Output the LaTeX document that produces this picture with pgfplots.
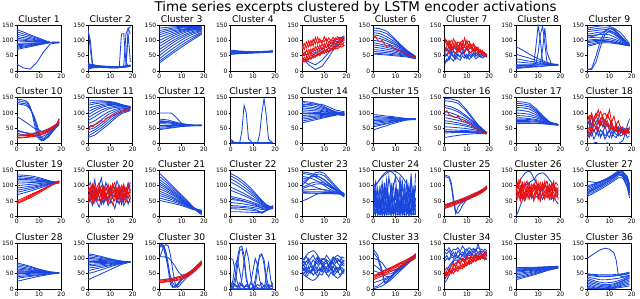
\documentclass[border=0pt]{standalone}
\usepackage{fontspec}
\setmainfont{DejaVu Sans}
\usepackage{pgfplots}
\usepackage{pgfplotstable}
\pgfplotsset{compat=1.18}
\definecolor{bl}{RGB}{25,70,220}
\definecolor{rd}{RGB}{235,15,15}
\pgfplotsset{
 sub/.style={
  scale only axis, width=44.5pt, height=46pt,
  xmin=0, xmax=20, ymin=0, ymax=150,
  xtick={0,10,20}, ytick={0,50,100,150},
  tick align=outside, tick pos=left,
  major tick length=2pt,
  every tick/.style={black, line width=0.5pt},
  tick label style={font=\fontsize{6}{7}\selectfont, inner sep=1pt},
  /pgf/number format/assume math mode=true,
  every axis title shift=0pt,
  title style={font=\fontsize{9.2}{10}\selectfont, inner sep=2.5pt},
  axis line style={line width=0.5pt, black},
  anchor=north west,
  every axis plot/.append style={line width=0.85pt, mark=none},
 }
}
\newcommand\pl[3]{\pgfplotsinvokeforeach{1,...,#2}{\addplot[#3] table[x index=0,y index=##1]{#1};}}

% ---------------- data ----------------
\pgfplotstableread{
0 135 128 120 113 107 102 98 90 86 82 78 74 70 22
3 127 121 115 109 104 100 97 91 87 84 81 78 75 10
6 118 114 109 105 101 98 96 91 89 86 84 82 79 6
9 110 107 104 101 99 96 95 92 90 89 87 85 84 28
12 101 100 98 97 96 95 94 92 92 91 90 89 88 62
15 93 93 93 93 93 93 93 93 93 93 93 93 93 88
19 94 93 93 92 93 94 92 93 94 93 92 93 94 93
}\tbA
\pgfplotstableread{
0 20 10 5 25 138 130 15 12 18 8 22
1 18 12 8 22 70 100 14 13 16 10 20
2 16 13 10 20 15 22 13 13 14 12 18
4 15 12 11 18 14 16 13 12 13 13 16
7 14 11 12 16 13 15 12 12 13 13 15
10 13 10 12 15 12 14 11 12 12 12 14
13 12 10 12 14 11 13 11 12 12 12 13
14 12 11 13 14 11 13 12 12 12 12 13
15 12 12 14 15 12 14 120 13 12 13 13
16 13 12 15 16 13 14 122 14 13 14 13
17 13 14 16 17 14 15 30 15 14 120 14
18 14 15 17 18 16 16 15 135 120 140 14
19 15 17 18 20 18 16 16 145 30 120 15
}\tbB
\pgfplotstableread{
0 140 132 125 118 110 100 90 80 70 60 50 40 32 26
3 142 136 131 125 118 110 102 94 85 76 67 57 48 42
6 144 140 136 131 126 120 114 107 99 92 83 73 64 58
9 145 142 139 135 132 128 124 118 111 105 97 88 80 73
12 145 143 141 138 136 134 131 127 121 116 110 102 94 88
15 145 144 142 140 138 137 135 133 129 125 120 113 107 102
19 145 144 142 141 139 138 137 136 134 132 130 126 124 120
}\tbC
\pgfplotstableread{
0 68 65 62 60 58 56 54 66
3 66 64 62 60 58 57 56 60
6 64 63 61 60 59 58 57 62
9 63 63 62 61 60 59 58 61
12 63 63 62 62 61 60 59 62
15 64 64 63 62 62 61 60 63
19 65 65 64 63 63 62 62 66
}\tbD
\pgfplotstableread{
0 45 40 50 35
3 20 30 55 40
6 5 20 60 50
9 15 35 70 60
12 45 60 85 75
15 80 85 100 90
19 100 105 115 110
}\tbE
\pgfplotstableread{
0 30 60 85 45 25 70 40
1 45 50 70 62 35 90 30
2 38 68 95 50 30 75 48
3 52 55 78 70 42 98 36
4 40 72 100 58 38 80 55
5 55 62 82 75 48 104 42
6 48 80 110 65 44 88 60
7 60 66 88 82 55 110 50
8 52 85 105 70 50 92 65
9 66 70 90 88 62 100 56
10 58 90 112 76 58 96 72
11 70 76 95 92 66 106 60
12 64 88 108 80 62 92 78
13 75 80 98 96 72 102 66
14 70 95 110 86 68 98 82
15 82 86 100 100 76 108 72
16 78 98 112 90 72 102 86
17 88 92 104 104 80 110 78
18 85 100 108 95 78 106 90
19 95 105 112 110 85 100 82
}\rdE
\pgfplotstableread{
0 140 132 125 118 110 100 92 85 78 70 64 58 55
3 138 130 122 114 106 97 88 82 75 68 62 57 54
6 130 122 112 104 98 90 83 77 71 65 60 55 52
9 110 105 98 92 88 82 76 72 67 62 57 53 50
12 88 85 82 78 76 72 68 65 61 57 54 51 48
15 68 66 65 63 62 60 58 56 54 52 50 48 46
19 48 47 46 45 46 44 45 44 43 42 42 41 40
}\tbF
\pgfplotstableread{
0 20 60 45 75 35
1 40 50 55 65 30
2 35 70 42 80 45
3 55 55 60 60 40
4 45 65 50 78 32
5 60 45 38 70 48
6 50 72 55 85 40
7 48 60 45 65 35
8 62 55 65 75 50
9 55 68 50 80 42
10 45 75 40 68 55
11 58 58 52 72 38
12 50 62 45 78 45
13 60 70 58 65 52
14 52 55 48 70 40
15 48 60 55 62 45
16 55 52 45 68 50
17 50 58 50 60 42
18 46 50 55 55 48
19 50 48 52 50 45
}\tbG
\pgfplotstableread{
0 105 90 70 60 110
1 95 100 80 75 85
2 85 75 95 55 100
3 100 88 65 80 78
4 90 70 85 65 105
5 78 95 75 58 88
6 95 80 60 72 70
7 88 72 90 62 95
8 100 90 70 78 82
9 82 78 80 60 108
10 92 70 100 75 75
11 98 85 72 65 90
12 80 75 85 58 70
13 90 68 65 72 85
14 75 80 75 60 65
15 70 70 60 55 78
16 65 60 70 62 60
17 60 65 55 50 68
18 55 55 60 58 50
19 50 52 48 55 48
}\rdG
\pgfplotstableread{
0 80 55 40 30 20 12 8 15 18 10
3 68 48 36 28 20 13 10 16 18 12
6 55 42 32 26 20 14 12 17 19 14
8 47 37 30 25 20 15 13 20 20 16
9 44 35 28 24 20 15 13 80 25 18
10 40 33 27 23 20 16 14 148 60 20
11 37 31 26 23 20 16 14 100 120 25
12 34 29 25 22 20 17 15 30 145 70
13 31 27 24 22 21 17 16 20 90 140
14 28 25 23 21 21 18 17 20 25 60
16 24 22 22 21 22 19 18 20 20 22
19 20 20 20 20 22 20 19 20 20 20
}\tbH
\pgfplotstableread{
0 140 135 128 120 115 108 100 92 85 80 110 5 5 95
2 142 136 130 122 116 109 102 94 88 84 112 5 8 98
4 145 138 132 125 118 110 103 96 92 88 116 30 50 100
6 147 140 134 127 119 110 104 98 95 91 122 80 100 100
8 148 141 135 128 120 110 104 98 96 92 130 120 130 99
10 146 140 133 127 118 108 102 97 95 92 138 130 140 97
12 138 132 126 120 112 104 99 94 92 90 140 125 135 94
15 115 112 108 105 100 96 92 89 88 87 125 105 110 90
19 85 84 84 83 82 82 82 82 82 82 90 85 86 85
}\tbI
\pgfplotstableread{
0 145 140 135 130 88 40 35 45
2 144 138 132 128 80 38 30 40
4 140 135 130 125 70 36 28 35
5 135 130 125 120 65 35 27 33
6 120 118 115 112 60 34 27 30
7 95 100 100 100 55 34 28 28
8 60 75 80 85 50 35 28 25
9 30 45 55 65 48 36 29 22
10 15 22 30 40 45 38 30 20
11 12 10 15 22 40 40 31 22
12 18 12 10 15 38 42 33 25
14 30 25 22 20 42 48 38 33
16 45 42 40 38 50 55 48 45
18 60 58 55 55 60 65 62 58
19 70 68 65 62 70 75 82 68
}\tbJ
\pgfplotstableread{
0 20 25 18 28
2 21 26 19 28
4 22 27 20 29
5 23 28 21 30
6 24 29 22 31
7 25 30 23 32
8 26 31 24 33
9 27 32 26 35
10 29 33 28 37
11 31 35 30 39
12 33 37 32 40
14 40 43 38 46
16 50 53 48 55
18 65 66 60 64
19 78 80 72 70
}\rdJ
\pgfplotstableread{
0 140 132 125 115 105 95 85 75 65 55 45 35 25 20
3 140 135 130 122 115 108 98 88 75 62 52 45 38 28
6 140 137 133 128 123 118 110 102 90 78 68 60 52 45
9 138 136 134 131 128 124 118 113 103 95 85 78 70 62
12 135 133 131 130 128 126 122 118 112 106 100 95 88 82
15 128 127 126 125 124 123 122 120 117 114 110 106 102 98
19 120 118 119 121 120 122 120 118 116 115 113 112 110 108
}\tbK
\pgfplotstableread{
0 100 80 75 70 65 60 55 50 46 72
2 100 79 74 69 65 60 55 51 48 72
4 100 77 72 68 64 60 56 52 50 70
5 100 75 71 67 64 60 56 53 51 70
6 97 73 70 66 63 60 57 54 52 68
8 82 69 67 64 62 60 58 55 54 66
10 66 65 64 62 61 60 59 57 56 63
13 62 62 61 61 60 60 59 58 58 61
16 60 60 60 60 60 60 59 59 59 60
19 60 60 60 60 60 60 60 59 59 61
}\tbL
\pgfplotstableread{
0 15 2 5 0 10
1 8 2 4 1 6
2 2 2 3 1 4
4 2 2 3 1 4
5 40 2 3 1 4
6 125 2 3 1 4
7 100 2 3 1 4
8 15 2 3 1 4
10 2 2 3 1 4
12 2 2 3 1 4
13 2 30 3 1 4
14 2 100 3 1 4
15 2 148 3 1 4
16 2 90 3 1 4
17 2 15 3 1 4
19 2 2 3 1 5
}\tbM
\pgfplotstableread{
0 138 134 128 122 116 110 104 98 92 86 80 74 68 125
3 136 132 126 120 115 109 103 98 93 88 83 78 73 128
6 132 128 122 117 112 107 102 98 94 90 86 82 78 130
9 124 120 116 112 108 105 101 98 95 92 89 86 83 128
12 114 112 110 107 104 102 100 98 96 94 92 90 88 120
15 104 104 103 101 100 99 98 97 96 95 94 94 93 110
19 100 98 97 95 96 95 94 93 92 93 98 102 105 104
}\tbN
\pgfplotstableread{
0 95 90 85 80 75 70 65 55 45 60
3 93 88 84 80 76 72 68 60 52 63
6 90 86 83 80 77 74 71 65 59 67
9 88 85 82 80 78 76 74 70 66 71
12 85 83 81 80 79 78 77 75 72 75
15 82 81 80 80 80 79 79 78 77 78
19 79 81 80 82 78 80 81 79 80 82
}\tbO
\pgfplotstableread{
0 148 140 125 118 105 95 85 75 68 55 45 40 35 20
3 146 138 120 113 100 90 81 72 65 54 45 40 36 24
6 140 132 110 104 92 84 76 68 62 52 44 40 37 27
9 118 112 95 90 82 76 70 63 58 50 43 40 37 30
12 90 86 78 75 70 66 62 57 53 47 42 39 37 32
15 62 60 58 57 55 53 51 48 46 43 40 38 36 33
19 35 35 36 36 35 35 35 34 34 34 34 33 33 32
}\tbP
\pgfplotstableread{
0 138 132 125 118 110 100 92 85 80 76 72 68 65
3 136 130 124 117 108 99 91 84 80 76 72 68 66
6 132 126 120 113 104 96 89 82 79 75 72 68 66
9 115 110 106 101 95 89 84 79 76 73 71 67 66
12 92 89 86 84 82 80 77 74 72 70 68 66 65
15 72 70 69 68 68 68 67 66 66 65 65 64 63
19 62 62 62 62 63 63 63 62 62 62 61 61 60
}\tbQ
\pgfplotstableread{
0 50 20 60 35 0 80
1 30 35 75 20 0 60
2 60 25 50 40 0 90
3 40 45 80 15 2 55
4 55 30 65 30 5 70
5 25 50 45 45 0 85
6 45 20 70 25 0 60
7 35 40 55 35 0 75
8 60 25 80 15 0 50
9 30 35 60 30 3 65
10 40 45 45 20 0 55
11 50 20 65 40 0 70
12 35 40 50 25 0 45
13 45 30 40 20 0 60
14 30 25 55 35 0 50
15 55 35 35 25 5 40
16 40 50 45 30 10 45
17 35 30 30 40 30 50
18 45 60 40 20 40 35
19 50 80 35 25 55 40
}\tbR
\pgfplotstableread{
0 30 95 40 70 20
1 45 80 55 90 30
2 60 100 35 60 45
3 80 70 65 85 40
4 100 90 50 95 55
5 90 110 75 65 45
6 105 75 60 80 70
7 85 95 85 90 60
8 70 100 70 60 50
9 95 85 95 75 65
10 80 110 80 55 45
11 60 70 65 70 55
12 50 90 50 45 40
13 55 60 60 65 50
14 45 75 40 40 35
15 40 50 50 55 45
16 35 55 35 35 30
17 45 40 30 45 40
18 38 45 40 50 35
19 40 35 30 45 50
}\rdR
\pgfplotstableread{
0 135 130 125 120 115 108 100 92 85 78 70
3 134 129 124 120 115 109 102 95 89 83 76
6 132 127 123 119 115 110 104 98 93 88 82
9 128 124 120 118 114 111 106 101 97 94 89
12 122 119 117 115 113 111 108 105 102 100 96
15 115 114 113 112 112 111 110 108 107 106 104
19 108 108 109 110 111 112 112 112 113 114 115
}\tbS
\pgfplotstableread{
0 40 45 50 42
3 52 56 60 50
6 64 67 70 60
9 76 78 80 72
12 88 89 90 85
15 100 100 101 98
19 112 114 110 116
}\rdS
\pgfplotstableread{
0 95 40 70 60
1 110 55 50 80
2 85 35 80 55
3 120 60 45 75
4 70 45 90 50
5 100 30 60 85
6 125 55 40 65
7 80 40 75 45
8 110 65 55 70
9 90 35 85 55
10 75 50 45 90
11 105 45 70 60
12 85 25 95 75
13 115 55 50 45
14 95 40 80 65
15 70 60 40 85
16 100 35 75 55
17 80 50 60 70
18 110 45 90 40
19 85 55 100 60
}\tbT
\pgfplotstableread{
0 100 55 80 45 90 65
1 80 70 95 60 70 85
2 105 45 65 75 95 60
3 75 80 90 50 60 100
4 95 60 70 85 80 55
5 110 50 100 65 75 90
6 70 85 80 45 100 60
7 100 55 60 70 85 95
8 85 75 95 50 65 70
9 105 45 75 65 90 80
10 65 80 100 55 70 95
11 95 60 85 40 105 75
12 110 50 70 70 80 90
13 75 90 95 55 65 60
14 100 55 65 45 90 85
15 85 75 100 60 75 55
16 105 45 80 70 60 95
17 70 80 90 50 95 65
18 95 60 70 65 80 100
19 110 70 85 45 60 75
}\rdT
\pgfplotstableread{
0 140 130 120 112 105 98 90 82 75 68 60 52
3 120 112 104 97 92 86 80 73 67 61 54 47
6 98 92 86 81 77 72 68 62 58 53 48 42
9 76 72 68 64 61 58 55 51 48 45 41 37
12 55 52 49 46 45 43 42 40 38 36 33 30
15 32 30 28 27 28 27 28 28 27 26 24 22
19 10 8 6 5 10 12 15 18 18 15 12 20
}\tbU
\pgfplotstableread{
0 140 132 122 112 95 85 65 55 45 35 25 15 60 30
3 128 120 110 100 85 76 60 52 43 34 24 15 55 30
6 112 104 95 86 74 67 55 48 40 32 22 14 50 28
9 92 85 78 71 62 57 48 43 36 30 20 13 42 26
12 68 64 60 55 50 46 40 37 31 26 17 12 34 20
14 52 50 47 44 40 38 34 32 28 22 14 12 26 10
16 38 37 36 34 32 31 29 28 26 24 20 20 22 18
19 28 27 26 26 27 28 30 30 32 34 35 30 25 28
}\tbV
\pgfplotstableread{
0 100 110 145 140 120 90 85 80 78 75 50 130 95 115
2 115 120 143 138 125 95 86 80 77 75 55 128 100 108
4 130 130 140 135 128 100 87 80 76 75 62 124 108 100
6 142 136 135 128 130 105 88 80 76 75 70 118 112 95
8 145 138 128 120 128 106 88 80 76 74 75 110 112 90
10 140 132 118 110 120 104 87 80 76 74 78 100 108 86
12 125 118 105 98 108 98 84 79 75 74 78 90 100 82
15 100 95 88 85 90 86 80 76 74 73 76 80 88 76
19 70 68 65 62 70 72 72 72 72 72 72 68 75 70
}\tbW
\pgfplotstableread{
0 5 100 20 50 10 100 95 30 5 40 120 15
1 60 40 5 110 20 105 100 40 10 5 30 80
2 10 5 90 30 40 112 110 5 15 60 10 25
3 100 70 30 10 60 120 122 15 5 20 50 5
4 20 110 5 70 10 128 132 50 8 100 5 40
5 5 30 60 5 90 135 140 20 12 15 40 110
6 80 10 120 40 30 140 146 10 5 5 90 20
7 15 60 40 130 5 145 148 25 10 70 10 50
8 110 5 5 70 50 148 146 60 5 30 100 10
9 30 95 20 10 110 148 140 5 15 5 20 60
10 5 130 70 40 15 146 132 30 8 90 5 25
11 90 20 10 60 40 142 120 20 5 50 70 5
12 10 5 130 20 85 136 105 50 12 5 40 100
13 60 50 25 100 10 128 90 15 10 120 5 40
14 5 100 5 60 70 118 70 35 5 20 30 10
15 120 10 80 30 20 105 50 5 8 60 110 35
16 20 40 10 5 100 90 30 25 15 5 60 5
17 8 140 60 20 45 70 15 10 5 80 5 120
18 70 5 20 90 10 50 5 40 10 30 50 60
19 10 60 100 30 5 30 10 5 140 60 20 90
}\tbX
\pgfplotstableread{
0 135 130 35 38
2 130 125 40 42
3 110 100 42 45
4 60 45 44 48
5 15 8 46 50
6 10 30 48 52
7 20 40 50 54
8 35 45 52 56
10 55 55 58 60
13 68 68 68 70
16 80 80 78 82
19 95 95 92 98
}\tbY
\pgfplotstableread{
0 30 35 25 40 28
1 32 34 28 38 31
2 35 38 30 42 33
3 36 40 33 44 35
4 40 43 35 47 38
5 42 46 38 49 40
6 45 48 42 52 43
7 47 52 44 55 46
8 50 55 48 58 50
9 54 57 50 61 52
10 56 61 53 64 55
11 60 64 56 67 58
12 62 68 60 70 61
13 66 70 63 74 65
14 70 74 66 77 68
15 74 78 70 80 72
16 78 82 74 84 76
17 82 86 78 88 80
18 88 90 84 92 85
19 95 98 90 100 92
}\rdY
\pgfplotstableread{
0 0 100 90 60
1 15 110 95 70
2 35 120 100 55
3 55 130 95 65
4 70 140 100 50
5 80 145 105 75
6 90 148 110 60
7 85 140 115 70
8 95 125 120 55
9 100 110 130 65
10 90 100 138 60
11 95 95 140 75
12 85 105 142 55
13 100 100 138 70
14 90 95 130 65
15 80 90 120 60
16 95 85 110 55
17 85 95 100 65
18 90 80 90 50
19 75 70 85 40
}\tbZ
\pgfplotstableread{
0 110 60 85 45 100 70
1 90 80 100 65 70 115
2 120 50 75 90 95 60
3 85 90 110 55 65 100
4 100 65 90 80 110 55
5 115 75 60 100 80 90
6 80 55 100 65 90 110
7 105 85 80 95 60 70
8 95 60 105 50 100 85
9 120 95 70 75 85 100
10 85 70 95 110 65 55
11 110 50 85 60 95 80
12 90 80 100 70 75 110
13 100 65 75 115 55 90
14 115 90 60 80 100 70
15 80 55 95 65 85 105
16 105 75 70 100 60 90
17 95 60 105 50 80 115
18 110 85 80 75 95 60
19 100 70 90 95 55 85
}\rdZ
\pgfplotstableread{
0 65 70 75 80 85 90 95 100 115 78
2 72 77 82 87 91 96 100 103 112 85
4 80 85 90 95 99 103 106 108 110 92
6 88 93 98 103 107 111 113 114 113 100
8 97 102 107 112 116 119 120 120 118 108
10 106 111 116 121 125 128 128 127 124 117
12 116 121 126 131 135 138 136 133 130 127
14 126 132 138 142 145 148 144 140 136 137
16 125 132 138 142 144 146 140 135 132 130
18 95 110 120 125 130 130 120 115 112 100
19 60 75 90 100 105 95 85 80 78 70
}\tbAA
\pgfplotstableread{
0 85 80 75 70 65 60 55 50 45 40 35 25 58 52
3 80 76 71 67 63 59 55 51 46 42 38 30 58 52
6 74 71 67 63 61 57 54 51 48 44 41 35 57 52
9 67 65 62 60 58 56 54 52 49 46 44 40 56 52
12 61 60 58 57 56 55 54 52 50 48 47 44 55 52
15 56 55 55 54 54 54 53 53 51 50 50 48 54 53
19 53 53 53 53 53 53 53 53 52 52 52 52 53 53
}\tbAB
\pgfplotstableread{
0 115 110 105 100 95 90 85 80 75 68 60 50 30
3 111 107 102 98 94 90 86 81 77 71 65 56 40
6 106 103 99 96 93 90 86 83 79 75 70 63 50
9 100 98 96 94 92 89 87 84 82 78 75 70 60
12 95 94 93 92 91 89 87 86 84 82 80 77 70
15 91 90 90 90 89 88 88 87 86 85 84 83 80
19 88 88 88 88 88 88 88 88 88 88 88 88 88
}\tbAC
\pgfplotstableread{
0 140 145 135 105 30 100
1 145 143 140 105 30 120
2 142 138 130 105 31 140
3 120 110 100 104 32 145
4 80 60 70 102 33 140
5 30 15 40 95 34 110
6 8 5 20 85 35 60
7 5 8 10 75 36 20
8 10 15 12 62 38 5
9 20 25 20 52 40 10
10 30 35 30 45 42 20
12 45 45 42 48 48 35
14 55 55 52 55 58 50
16 65 65 64 65 70 63
19 85 88 90 85 90 82
}\tbAD
\pgfplotstableread{
0 22 25 28 20
1 23 26 29 21
2 24 27 30 22
3 25 28 31 23
4 26 29 32 24
5 27 30 33 25
6 28 31 35 26
7 29 33 37 27
8 31 35 39 28
9 33 37 41 30
10 35 39 43 32
12 40 45 49 37
14 50 54 58 46
16 62 66 70 58
19 85 88 92 80
}\rdAD
\pgfplotstableread{
0 100 5 0 2 0 0 10 20 0 0
1 95 10 5 0 0 0 5 15 30 0
2 60 40 20 0 0 0 15 10 80 0
3 20 100 70 0 0 0 8 5 95 0
4 5 135 125 5 0 0 20 10 60 0
5 0 140 130 30 0 0 10 15 20 0
6 0 110 90 90 0 0 5 5 5 0
7 0 40 30 130 0 0 15 10 0 0
8 0 5 5 100 0 0 8 5 0 0
9 0 0 0 40 0 0 20 2 0 20
10 0 0 0 5 0 5 10 5 0 60
11 0 0 0 0 10 30 5 10 0 100
12 0 0 0 0 60 80 15 5 0 80
13 0 0 0 0 110 105 10 2 0 30
14 0 0 2 0 115 110 20 5 0 5
15 0 0 0 0 80 95 8 10 0 0
16 0 0 0 0 20 40 15 5 0 40
17 0 5 0 0 5 10 5 15 0 85
18 0 2 0 0 0 0 10 10 0 30
19 0 0 0 0 0 0 5 20 0 5
}\tbAE
\pgfplotstableread{
0 80 60 100 45 90 50 70 85 65 95 55
1 90 70 95 55 100 45 80 75 60 85 65
2 75 55 105 40 110 40 90 65 70 90 50
3 95 75 90 50 118 35 85 55 65 100 60
4 85 50 100 60 122 30 75 60 75 80 55
5 70 65 110 45 125 28 65 70 60 95 70
6 90 80 95 55 120 32 60 80 70 85 50
7 80 55 105 40 110 40 70 90 65 100 60
8 100 70 90 50 95 55 85 95 60 80 65
9 75 60 100 45 80 70 95 85 75 90 55
10 85 75 95 60 70 80 100 75 65 85 70
11 95 50 110 50 65 85 90 70 70 95 60
12 70 65 100 40 70 80 75 80 60 90 55
13 90 80 90 55 80 65 65 90 65 80 65
14 80 55 105 45 95 50 70 85 75 100 50
15 100 70 95 50 105 40 85 75 60 85 60
16 85 60 100 60 110 35 95 65 70 90 55
17 75 75 90 45 105 40 90 70 65 95 65
18 90 55 105 55 95 50 80 80 70 85 60
19 80 65 100 50 90 60 75 85 60 95 55
}\tbAF
\pgfplotstableread{
0 130 120 5 0 100 60 20 80
2 110 100 10 5 95 55 25 70
4 60 50 20 10 85 50 30 55
5 25 20 28 15 75 48 33 45
6 20 25 32 20 65 48 36 40
8 35 40 42 30 58 50 42 42
10 55 60 55 45 62 58 52 55
13 75 78 72 65 75 72 68 72
16 92 95 90 85 92 90 88 90
19 110 112 108 105 115 110 106 112
}\tbAG
\pgfplotstableread{
0 35 42 30 38 45
1 38 46 33 40 46
2 42 47 36 47 50
3 45 54 40 47 54
4 48 53 43 54 58
5 52 60 47 54 61
6 55 61 50 62 64
7 58 67 54 61 68
8 62 66 58 69 71
9 66 74 61 68 74
10 70 73 64 76 78
11 73 80 68 76 82
12 76 81 72 83 86
13 80 87 76 83 89
14 84 88 80 90 92
15 88 96 84 90 96
16 92 97 88 98 100
17 96 104 92 98 104
18 100 105 96 106 108
19 104 110 100 112 115
}\rdAG
\pgfplotstableread{
0 130 100 120 20 30 50 90
1 125 110 115 30 45 60 100
2 135 95 125 45 65 75 95
3 120 115 110 60 80 85 105
4 130 105 120 75 90 95 100
5 128 120 105 85 95 100 110
6 135 100 125 90 92 105 105
7 122 115 115 95 100 100 115
8 140 110 120 100 95 110 108
9 130 125 110 95 105 105 120
10 125 105 130 105 98 112 112
11 135 118 115 100 100 108 125
12 128 110 125 95 105 115 115
13 132 120 120 105 98 110 130
14 125 115 130 100 110 112 120
15 135 108 118 110 102 118 148
16 130 120 125 100 108 115 125
17 128 112 110 105 100 110 120
18 120 118 115 95 105 120 130
19 125 110 120 100 95 115 125
}\tbAH
\pgfplotstableread{
0 40 55 60 45 50
1 55 45 70 50 40
2 45 60 55 58 65
3 60 50 75 52 55
4 50 68 85 62 80
5 65 58 70 70 75
6 58 75 90 65 95
7 72 65 80 78 85
8 66 82 95 72 100
9 80 72 85 85 90
10 75 90 100 80 108
11 88 80 90 92 98
12 82 95 105 86 112
13 95 88 95 98 105
14 90 102 110 92 115
15 100 94 100 104 102
16 96 108 105 98 118
17 105 100 112 110 110
18 100 112 108 104 120
19 110 118 115 100 108
}\rdAH
\pgfplotstableread{
0 70 68 65 62 60 58 55 50 45 40 35 30
3 70 68 66 63 61 60 57 53 49 44 40 36
6 71 69 67 65 63 62 60 56 53 49 45 42
9 71 70 68 66 65 64 62 60 57 54 51 48
12 72 71 70 68 67 66 65 63 62 59 57 55
15 73 72 71 70 69 69 68 67 66 64 63 62
19 74 74 73 73 72 72 71 71 70 70 69 68
}\tbAI
\pgfplotstableread{
0 100 50 45 40 35 30 25 20 15 10 5 2 48
2 110 48 43 36 30 25 20 15 10 6 3 1 46
4 120 47 41 33 25 20 15 10 6 3 1 1 44
6 128 46 40 30 22 16 12 8 4 2 1 0 42
8 133 46 40 30 20 14 10 7 4 2 1 0 42
10 130 46 41 31 21 15 11 8 5 3 2 1 42
12 118 47 42 33 23 17 14 10 7 5 3 2 43
13 95 48 43 34 25 20 17 13 9 7 5 3 44
14 45 48 44 35 27 22 20 16 12 9 7 4 45
16 40 50 46 38 32 28 26 22 18 14 10 6 48
19 45 55 50 45 42 38 35 30 25 20 15 10 52
}\tbAJ

\begin{document}
\begin{tikzpicture}
% row 1 (top y = 273pt)
\begin{axis}[sub, at={(16.8pt,273pt)}, title={Cluster 1}] \pl{\tbA}{14}{bl} \end{axis}
\begin{axis}[sub, at={(88.1pt,273pt)}, title={Cluster 2}] \pl{\tbB}{11}{bl} \end{axis}
\begin{axis}[sub, at={(159.4pt,273pt)}, title={Cluster 3}] \pl{\tbC}{14}{bl} \end{axis}
\begin{axis}[sub, at={(230.7pt,273pt)}, title={Cluster 4}] \pl{\tbD}{8}{bl} \end{axis}
\begin{axis}[sub, at={(302.0pt,273pt)}, title={Cluster 5}] \pl{\tbE}{4}{bl} \pl{\rdE}{7}{rd} \end{axis}
\begin{axis}[sub, at={(373.3pt,273pt)}, title={Cluster 6}] \pl{\tbF}{13}{bl}
 \addplot[rd] coordinates {(0,110)(1,112)(2,100)(3,95)(4,100)(5,88)(6,80)(7,85)(8,82)(9,75)(10,70)(12,65)(14,58)(16,52)(19,45)}; \end{axis}
\begin{axis}[sub, at={(444.6pt,273pt)}, title={Cluster 7}] \pl{\tbG}{5}{bl} \pl{\rdG}{5}{rd} \end{axis}
\begin{axis}[sub, at={(515.9pt,273pt)}, title={Cluster 8}] \pl{\tbH}{10}{bl} \end{axis}
\begin{axis}[sub, at={(587.2pt,273pt)}, title={Cluster 9}] \pl{\tbI}{14}{bl} \end{axis}
% row 2
\begin{axis}[sub, at={(16.8pt,200.3pt)}, title={Cluster 10}] \pl{\tbJ}{8}{bl} \pl{\rdJ}{4}{rd} \end{axis}
\begin{axis}[sub, at={(88.1pt,200.3pt)}, title={Cluster 11}] \pl{\tbK}{14}{bl}
 \addplot[rd] coordinates {(0,40)(1,58)(2,55)(3,62)(4,65)(5,70)(6,75)(7,72)(8,82)(9,86)(10,88)(11,95)(12,92)(13,98)(14,100)(15,105)(16,110)(17,108)(18,115)(19,118)}; \end{axis}
\begin{axis}[sub, at={(159.4pt,200.3pt)}, title={Cluster 12}] \pl{\tbL}{10}{bl} \end{axis}
\begin{axis}[sub, at={(230.7pt,200.3pt)}, title={Cluster 13}] \pl{\tbM}{5}{bl} \end{axis}
\begin{axis}[sub, at={(302.0pt,200.3pt)}, title={Cluster 14}] \pl{\tbN}{14}{bl} \end{axis}
\begin{axis}[sub, at={(373.3pt,200.3pt)}, title={Cluster 15}] \pl{\tbO}{10}{bl} \end{axis}
\begin{axis}[sub, at={(444.6pt,200.3pt)}, title={Cluster 16}] \pl{\tbP}{14}{bl}
 \addplot[rd] coordinates {(0,100)(1,108)(2,95)(3,92)(4,88)(5,85)(6,90)(7,80)(8,72)(9,75)(10,70)(11,65)(12,62)(13,55)(14,50)(15,45)(16,42)(17,38)(18,36)(19,35)}; \end{axis}
\begin{axis}[sub, at={(515.9pt,200.3pt)}, title={Cluster 17}] \pl{\tbQ}{13}{bl} \end{axis}
\begin{axis}[sub, at={(587.2pt,200.3pt)}, title={Cluster 18}] \pl{\tbR}{6}{bl} \pl{\rdR}{5}{rd} \end{axis}
% row 3
\begin{axis}[sub, at={(16.8pt,127.7pt)}, title={Cluster 19}] \pl{\tbS}{11}{bl} \pl{\rdS}{4}{rd} \end{axis}
\begin{axis}[sub, at={(88.1pt,127.7pt)}, title={Cluster 20}] \pl{\tbT}{4}{bl} \pl{\rdT}{6}{rd} \end{axis}
\begin{axis}[sub, at={(159.4pt,127.7pt)}, title={Cluster 21}] \pl{\tbU}{12}{bl} \end{axis}
\begin{axis}[sub, at={(230.7pt,127.7pt)}, title={Cluster 22}] \pl{\tbV}{14}{bl} \end{axis}
\begin{axis}[sub, at={(302.0pt,127.7pt)}, title={Cluster 23}] \pl{\tbW}{14}{bl} \end{axis}
\begin{axis}[sub, at={(373.3pt,127.7pt)}, title={Cluster 24}] \pl{\tbX}{12}{bl} \end{axis}
\begin{axis}[sub, at={(444.6pt,127.7pt)}, title={Cluster 25}] \pl{\tbY}{4}{bl} \pl{\rdY}{5}{rd} \end{axis}
\begin{axis}[sub, at={(515.9pt,127.7pt)}, title={Cluster 26}] \pl{\tbZ}{4}{bl} \pl{\rdZ}{6}{rd} \end{axis}
\begin{axis}[sub, at={(587.2pt,127.7pt)}, title={Cluster 27}] \pl{\tbAA}{10}{bl} \end{axis}
% row 4
\begin{axis}[sub, at={(16.8pt,55pt)}, title={Cluster 28}] \pl{\tbAB}{14}{bl} \end{axis}
\begin{axis}[sub, at={(88.1pt,55pt)}, title={Cluster 29}] \pl{\tbAC}{13}{bl} \end{axis}
\begin{axis}[sub, at={(159.4pt,55pt)}, title={Cluster 30}] \pl{\tbAD}{6}{bl} \pl{\rdAD}{4}{rd} \end{axis}
\begin{axis}[sub, at={(230.7pt,55pt)}, title={Cluster 31}] \pl{\tbAE}{10}{bl} \end{axis}
\begin{axis}[sub, at={(302.0pt,55pt)}, title={Cluster 32}] \pl{\tbAF}{11}{bl} \end{axis}
\begin{axis}[sub, at={(373.3pt,55pt)}, title={Cluster 33}] \pl{\tbAG}{8}{bl} \pl{\rdAG}{5}{rd} \end{axis}
\begin{axis}[sub, at={(444.6pt,55pt)}, title={Cluster 34}] \pl{\tbAH}{7}{bl} \pl{\rdAH}{5}{rd} \end{axis}
\begin{axis}[sub, at={(515.9pt,55pt)}, title={Cluster 35}] \pl{\tbAI}{12}{bl} \end{axis}
\begin{axis}[sub, at={(587.2pt,55pt)}, title={Cluster 36}] \pl{\tbAJ}{13}{bl} \end{axis}

\node[font=\fontsize{13.4}{15}\selectfont, anchor=base] at (355.5pt,286.2pt) {Time series excerpts clustered by LSTM encoder activations};
\pgfresetboundingbox
\path[use as bounding box] (0,0) rectangle (640pt,298pt);
\end{tikzpicture}
\end{document}
